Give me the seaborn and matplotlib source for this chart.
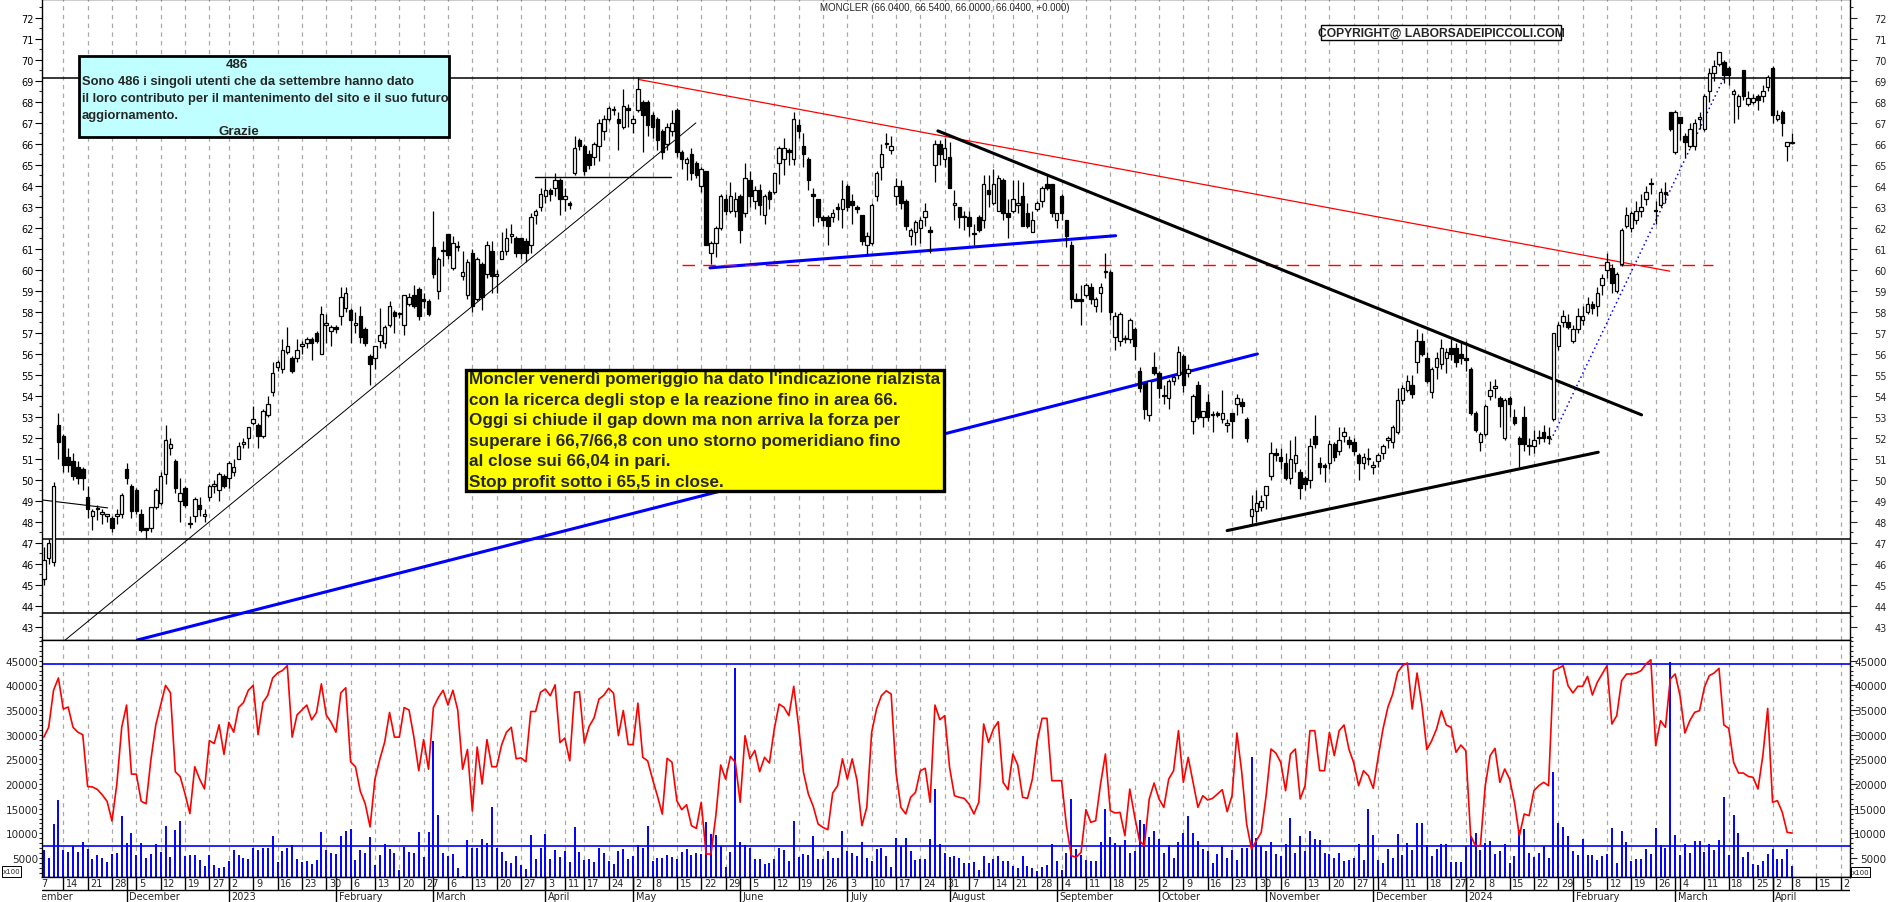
import numpy as np
import pandas as pd
import matplotlib
matplotlib.use("Agg")
import matplotlib.pyplot as plt
from matplotlib.patches import Rectangle
import seaborn as sns

sns.set_style("white")
plt.rcParams["font.family"] = ["DejaVu Sans"]

W, H = 1890, 903

# -----------------------------
# Trading calendar (Borsa Italiana)
# -----------------------------
holidays = ["2022-12-26", "2023-04-07", "2023-04-10", "2023-05-01", "2023-08-15",
            "2023-12-25", "2023-12-26", "2024-01-01", "2024-03-29", "2024-04-01"]

# -----------------------------
# Daily candles, 8 Nov 2022 -> 8 Apr 2024
# -----------------------------
opens = [
    45.3, 46.3, 46.1, 52.6, 52.1, 51.1, 50.9, 50.6, 50.5, 49.2,
    48.3, 48.6, 48.4, 48.3, 48.2, 48.3, 48.4, 50.5, 49.7, 49.5,
    48.4, 47.7, 47.7, 48.7, 48.9, 50.3, 51.5, 50.9, 49.0, 49.6,
    47.9, 48.3, 48.8, 48.3, 49.2, 49.7, 49.5, 50.2, 50.1, 50.4,
    51.0, 51.7, 52.0, 52.7, 52.6, 52.1, 53.1, 54.2, 55.4, 55.3,
    56.1, 55.8, 55.8, 56.4, 56.5, 56.7, 57.0, 56.0, 57.4, 57.1,
    57.3, 57.8, 58.2, 58.1, 57.4, 57.8, 57.2, 55.9, 55.8, 56.6,
    56.5, 57.4, 58.0, 57.9, 57.4, 58.4, 58.8, 59.1, 58.6, 58.5,
    61.1, 59.0, 60.9, 61.7, 60.1, 61.1, 59.7, 58.8, 60.8, 58.6,
    60.3, 59.8,
    60.9, 59.7, 60.5, 60.9, 61.6, 61.5, 61.5, 61.4, 61.2, 62.6,
    63.0, 63.5, 63.8, 63.9, 64.3, 63.4, 63.2, 64.6, 66.2, 65.9,
    65.5, 65.4, 65.9, 66.6, 67.2, 67.6, 67.2, 66.8, 67.7, 67.0,
    67.6, 68.0, 68.0, 67.4, 67.2, 66.6, 66.0, 66.6, 67.6, 65.6,
    65.1, 65.5, 65.1, 64.0, 64.7, 60.8, 61.3, 62.0, 63.4, 62.8,
    62.8, 63.5, 62.7, 64.3, 63.3, 63.8, 62.6, 63.7, 63.7, 65.1,
    65.3, 65.7, 65.3, 66.9, 65.9, 65.3, 63.6, 63.4, 62.5, 62.5,
    62.5, 63.0, 62.9, 64.0, 63.3, 63.0, 62.6, 61.2, 61.3, 63.5,
    64.9, 66.0, 65.7, 63.5, 64.0, 63.3, 61.6, 61.8, 62.0, 62.5,
    61.9, 65.0, 66.0, 65.3,
    65.4, 63.1, 63.0, 62.5, 62.5, 61.7, 62.5, 62.4, 63.8, 63.2,
    62.8, 64.3, 62.7, 62.8, 63.1, 63.5, 62.7, 61.8, 62.9, 63.3,
    64.1, 64.1, 62.4, 63.5, 62.4, 61.2, 58.6, 58.6, 58.8, 59.2,
    58.3, 58.9, 59.9, 59.9, 56.8, 56.6, 56.7, 56.7, 57.2, 55.2,
    54.6, 53.1, 55.4, 55.1, 54.0, 53.9, 54.7, 55.0, 55.9, 55.1,
    52.8, 54.5, 53.0, 53.7, 53.1, 53.2, 52.9, 52.6, 53.2, 53.6,
    53.7, 52.9, 48.3, 48.5, 48.7, 49.3, 50.2, 51.3, 51.1, 50.8,
    50.1, 50.8, 50.4, 50.1, 50.0, 52.1, 50.8, 50.7, 50.8, 51.7,
    51.4, 52.1, 51.9, 51.8, 51.2, 50.8, 51.0, 50.6, 50.9, 51.3,
    51.9, 51.8, 52.3,
    53.8, 54.3, 54.5, 55.6, 56.6, 55.8, 54.2, 55.4, 55.5, 55.8,
    56.3, 56.3, 56.0, 55.8, 55.3, 53.2, 51.8, 52.2, 54.0, 54.4,
    53.9, 52.0, 53.9, 53.0, 52.0, 53.0, 51.6, 51.6, 52.0, 52.3,
    52.1, 52.9, 56.4, 57.5, 57.5, 56.6, 57.2, 57.6, 58.0, 58.4,
    58.3, 59.3, 60.0, 60.1, 59.0, 60.3, 62.1, 62.0, 62.4, 62.8,
    63.4, 64.1, 62.8, 63.1, 63.7, 67.5, 65.6, 67.3, 66.4, 65.9,
    65.9, 67.2, 66.7, 68.5, 69.4, 69.8, 69.9, 69.6, 68.4, 67.8,
    69.5, 67.9, 68.0, 68.3, 68.3, 68.7, 69.6, 67.2, 67.5, 65.9,
    66.04,
]
highs = [
    46.8, 47.2, 49.9, 53.2, 52.2, 51.5, 51.3, 50.9, 50.6, 49.7,
    48.6, 48.8, 48.6, 48.4, 48.3, 48.6, 49.4, 50.8, 49.8, 49.6,
    48.6, 47.7, 48.7, 49.6, 50.4, 52.6, 52.0, 51.0, 50.1, 49.7,
    48.3, 49.2, 49.2, 48.6, 49.8, 50.0, 50.4, 50.3, 50.9, 51.0,
    51.8, 52.0, 52.5, 53.5, 52.7, 53.4, 54.0, 55.6, 55.7, 56.7,
    57.3, 55.9, 56.7, 56.6, 56.8, 56.8, 57.1, 58.3, 57.9, 57.4,
    57.4, 59.2, 59.2, 58.2, 58.0, 58.3, 57.3, 56.0, 56.4, 58.2,
    57.4, 58.5, 58.1, 58.0, 58.8, 58.9, 59.3, 59.2, 58.9, 58.6,
    62.8, 60.6, 61.4, 61.7, 61.6, 61.4, 60.9, 60.5, 61.0, 60.6,
    60.4, 61.4,
    61.4, 60.0, 61.8, 62.0, 62.2, 61.6, 61.5, 61.5, 62.7, 62.9,
    63.9, 64.4, 63.9, 64.6, 64.4, 63.9, 63.3, 66.4, 66.3, 66.0,
    65.7, 66.1, 67.2, 67.4, 67.8, 67.8, 67.5, 68.6, 67.9, 67.4,
    69.2, 68.1, 68.1, 67.5, 67.3, 66.7, 67.0, 67.6, 67.7, 65.7,
    65.4, 65.8, 65.2, 64.9, 64.7, 61.4, 62.1, 63.6, 63.6, 64.2,
    63.7, 63.6, 65.1, 64.7, 64.0, 64.1, 63.6, 63.8, 64.6, 65.9,
    66.3, 65.8, 67.5, 67.2, 66.5, 65.4, 63.9, 63.4, 62.6, 62.6,
    62.9, 63.2, 64.3, 64.1, 63.6, 63.1, 62.6, 61.8, 63.2, 64.7,
    66.0, 66.5, 66.4, 64.4, 64.3, 63.4, 62.0, 62.4, 62.5, 63.2,
    62.1, 66.2, 66.2, 66.3,
    66.1, 63.8, 63.0, 62.8, 62.8, 62.2, 62.6, 64.5, 64.5, 64.8,
    64.5, 64.4, 63.4, 64.3, 64.3, 64.2, 63.2, 62.8, 63.3, 64.0,
    64.5, 64.1, 62.7, 63.6, 62.4, 61.4, 58.9, 59.3, 59.4, 59.4,
    58.7, 59.4, 60.8, 60.0, 58.0, 58.0, 56.9, 57.7, 57.3, 55.4,
    54.6, 54.7, 56.1, 55.2, 54.5, 54.8, 55.0, 56.4, 56.0, 55.5,
    54.1, 54.7, 53.3, 54.1, 53.3, 53.3, 54.3, 52.9, 53.2, 54.1,
    53.9, 53.0, 49.3, 49.5, 49.3, 49.7, 51.8, 51.5, 51.5, 51.3,
    51.9, 52.1, 50.5, 50.2, 52.0, 53.1, 51.1, 50.8, 51.9, 51.8,
    52.5, 52.5, 52.1, 52.0, 51.3, 51.3, 51.5, 50.9, 51.3, 51.7,
    52.1, 52.6, 54.4,
    54.5, 55.0, 55.0, 57.2, 57.0, 56.1, 55.4, 56.1, 56.7, 56.3,
    56.7, 56.5, 56.6, 56.6, 55.4, 53.3, 52.3, 53.6, 54.7, 54.8,
    54.0, 53.9, 54.0, 53.4, 52.1, 53.5, 52.0, 52.4, 52.4, 52.6,
    52.5, 57.0, 57.5, 58.1, 57.9, 57.4, 58.2, 58.3, 58.7, 58.5,
    59.2, 59.8, 60.8, 60.3, 59.9, 62.0, 63.0, 62.8, 63.3, 63.6,
    64.0, 64.4, 63.3, 63.9, 64.2, 67.5, 67.6, 67.3, 66.5, 67.0,
    67.2, 67.5, 68.4, 69.6, 70.0, 70.4, 70.0, 69.7, 68.6, 68.4,
    69.5, 68.5, 68.4, 68.4, 68.8, 69.3, 69.7, 67.6, 67.6, 66.1,
    66.54,
]
lows = [
    45.0, 46.0, 45.9, 51.0, 50.4, 50.4, 50.0, 49.8, 49.5, 48.2,
    47.6, 48.1, 47.9, 48.0, 47.5, 47.9, 48.2, 49.8, 48.2, 48.4,
    47.5, 47.2, 47.5, 48.6, 48.8, 49.8, 51.2, 49.4, 48.0, 48.7,
    47.7, 48.0, 48.3, 48.0, 49.0, 49.4, 49.0, 49.6, 49.6, 50.2,
    51.0, 51.5, 51.5, 52.6, 51.5, 52.0, 53.0, 54.0, 55.2, 55.1,
    56.0, 55.1, 55.6, 56.0, 56.3, 55.7, 56.5, 56.0, 56.5, 56.4,
    57.0, 57.4, 58.0, 56.5, 57.0, 56.5, 56.4, 54.5, 55.3, 56.3,
    56.3, 57.3, 57.0, 57.7, 56.9, 58.3, 58.2, 57.6, 58.2, 57.8,
    59.6, 58.6, 60.2, 60.5, 60.0, 60.9, 59.5, 58.6, 58.0, 58.5,
    58.1, 59.6,
    58.9, 58.9, 60.5, 60.7, 61.3, 60.6, 60.5, 60.4, 60.8, 62.2,
    62.8, 63.2, 63.3, 63.5, 62.6, 62.8, 62.9, 64.5, 65.7, 64.5,
    64.8, 65.0, 65.2, 66.2, 67.1, 67.4, 65.7, 66.7, 66.8, 66.5,
    67.5, 65.6, 66.4, 66.3, 65.7, 65.3, 65.7, 66.4, 65.4, 64.8,
    64.3, 64.3, 64.4, 63.7, 61.2, 60.3, 60.6, 61.9, 62.6, 62.7,
    62.5, 61.3, 62.5, 63.0, 62.9, 62.6, 62.2, 62.9, 63.6, 64.1,
    64.5, 65.0, 65.0, 66.3, 64.9, 63.8, 62.1, 62.3, 62.1, 61.2,
    62.3, 62.4, 62.0, 62.8, 62.2, 62.7, 61.2, 60.7, 61.2, 63.3,
    64.3, 65.8, 65.5, 63.1, 62.9, 61.9, 61.2, 61.2, 61.3, 62.1,
    60.8, 64.2, 65.0, 64.9,
    63.9, 62.4, 62.0, 61.9, 61.6, 61.2, 61.8, 62.0, 63.0, 63.1,
    62.8, 62.4, 61.5, 62.7, 62.7, 62.1, 62.0, 61.8, 62.8, 63.0,
    63.8, 62.5, 62.0, 62.4, 61.1, 58.2, 58.5, 57.4, 58.7, 58.4,
    58.0, 58.0, 59.6, 57.6, 56.2, 56.4, 56.5, 56.5, 55.7, 54.2,
    52.9, 52.8, 55.0, 53.9, 53.6, 53.4, 54.5, 54.8, 54.2, 54.9,
    52.2, 52.9, 52.5, 52.8, 52.3, 53.0, 52.7, 52.3, 52.0, 53.1,
    53.2, 51.8, 47.9, 48.0, 48.5, 48.6, 50.0, 50.9, 50.5, 50.0,
    49.8, 50.4, 49.1, 49.5, 49.6, 51.5, 50.3, 49.9, 50.5, 50.9,
    51.2, 51.8, 51.5, 51.2, 50.0, 50.5, 50.7, 50.3, 50.6, 51.0,
    51.5, 51.5, 52.2,
    53.6, 54.2, 53.9, 55.1, 55.9, 54.6, 53.9, 54.8, 55.3, 55.1,
    55.7, 55.4, 55.5, 55.2, 53.1, 52.3, 51.4, 52.1, 53.8, 53.9,
    52.5, 51.9, 53.0, 52.6, 50.6, 51.4, 51.2, 51.3, 51.7, 51.8,
    51.7, 52.8, 56.2, 57.3, 57.2, 56.5, 57.0, 57.4, 57.9, 57.9,
    57.8, 58.8, 59.6, 58.9, 58.9, 60.2, 62.0, 61.8, 62.2, 62.5,
    63.1, 63.6, 62.2, 63.0, 63.2, 66.6, 65.5, 66.2, 65.4, 65.8,
    65.7, 66.7, 66.6, 68.0, 69.0, 69.7, 68.9, 68.8, 67.0, 67.2,
    68.1, 67.8, 67.9, 67.6, 68.0, 68.5, 67.0, 67.1, 66.4, 65.2,
    66.0,
]
closes = [
    46.2, 47.0, 49.7, 51.8, 50.7, 50.7, 50.2, 50.1, 50.1, 48.6,
    48.5, 48.6, 48.4, 48.3, 47.7, 48.4, 49.3, 50.1, 48.5, 48.5,
    47.6, 47.6, 48.7, 49.5, 50.2, 51.9, 51.7, 49.6, 49.4, 48.8,
    47.9, 49.1, 48.6, 48.3, 49.7, 49.8, 50.3, 49.7, 50.8, 50.6,
    51.6, 51.8, 52.5, 52.9, 52.1, 53.3, 53.6, 55.1, 55.6, 56.2,
    56.4, 55.2, 56.2, 56.4, 56.7, 56.5, 56.6, 57.9, 57.4, 57.3,
    57.2, 58.7, 58.9, 57.6, 57.4, 56.8, 56.5, 55.5, 56.4, 56.9,
    57.3, 58.3, 57.8, 57.9, 58.8, 58.7, 58.3, 57.8, 58.5, 57.9,
    59.8, 60.5, 60.9, 60.7, 61.3, 61.1, 59.9, 60.4, 58.3, 60.5,
    58.7, 61.2,
    59.7, 59.8, 60.9, 61.5, 61.7, 60.8, 60.8, 60.8, 62.5, 62.8,
    63.6, 63.8, 63.6, 64.3, 63.4, 63.5, 63.1, 65.8, 65.9, 64.7,
    65.0, 66.0, 67.0, 67.2, 67.7, 67.6, 67.0, 67.8, 67.6, 67.2,
    68.6, 67.4, 66.9, 66.8, 66.2, 65.6, 66.8, 67.0, 65.6, 65.3,
    65.3, 64.6, 64.5, 64.8, 61.2, 61.3, 62.0, 63.5, 62.8, 63.5,
    63.4, 61.9, 64.4, 63.5, 63.8, 63.1, 63.5, 63.4, 64.6, 65.8,
    65.8, 65.6, 67.2, 66.6, 65.5, 64.3, 63.5, 62.5, 62.4, 62.1,
    62.7, 62.9, 63.4, 63.0, 63.1, 62.9, 61.4, 61.6, 63.1, 64.6,
    65.5, 66.0, 65.9, 64.0, 63.2, 62.1, 61.9, 62.3, 62.4, 62.8,
    61.8, 66.0, 65.5, 65.8,
    63.9, 63.2, 62.5, 62.5, 62.1, 61.7, 61.9, 64.1, 63.6, 64.1,
    64.4, 62.7, 62.5, 63.4, 63.2, 62.1, 62.1, 62.4, 63.2, 63.9,
    63.9, 62.7, 62.7, 62.7, 61.6, 58.6, 58.5, 58.5, 59.3, 58.6,
    58.6, 59.2, 59.9, 58.0, 57.8, 57.9, 56.7, 57.6, 56.4, 54.4,
    53.4, 54.7, 55.1, 54.4, 54.0, 54.7, 54.9, 56.1, 54.5, 55.3,
    54.0, 53.0, 53.3, 53.0, 53.1, 53.1, 53.2, 52.7, 52.8, 53.9,
    53.5, 52.0, 48.6, 48.9, 49.0, 49.7, 51.3, 51.2, 50.9, 50.1,
    51.0, 51.2, 49.6, 49.8, 51.6, 51.7, 50.6, 50.6, 51.7, 51.1,
    51.9, 52.3, 51.7, 51.4, 50.8, 51.1, 51.0, 50.7, 51.2, 51.6,
    52.0, 52.5, 53.8,
    54.4, 54.7, 54.1, 56.6, 56.0, 54.7, 55.3, 55.8, 56.3, 56.1,
    56.0, 55.6, 55.8, 55.7, 53.2, 52.4, 52.2, 53.5, 54.3, 54.4,
    53.5, 53.8, 53.6, 52.7, 51.7, 51.7, 51.6, 51.9, 52.0, 52.0,
    52.0, 57.0, 57.4, 57.8, 57.3, 57.2, 57.8, 57.8, 58.4, 58.2,
    58.9, 59.6, 60.4, 59.4, 59.8, 61.9, 62.6, 62.7, 62.8, 63.0,
    63.7, 64.1, 62.8, 63.7, 63.6, 66.7, 67.5, 67.0, 66.1, 66.7,
    67.0, 67.2, 68.3, 69.4, 69.7, 70.4, 69.3, 69.3, 68.5, 68.3,
    68.3, 68.2, 68.2, 68.1, 68.5, 69.2, 67.4, 67.4, 67.0, 66.1,
    66.04,
]

# -----------------------------
# Lower panel: volume (x100) and red indicator
# -----------------------------
volume = [
    6700, 5000, 11900, 16750, 6700, 6280, 7360, 6280, 8300, 6820,
    4800, 5600, 5000, 4250, 5800, 6000, 13580, 8040, 10060, 5600,
    8040, 5000, 5800, 7840, 6280, 11420, 5130, 10670, 12500, 5330,
    5600, 5600, 4600, 3300, 5600, 3580, 2970, 3100, 4390, 6620,
    5600, 5000, 4800, 7020, 6620, 7020, 7020, 9520, 4250, 6410,
    7020, 7630, 4800, 4250, 4390, 3780, 4600, 10200, 6700, 6010,
    5800, 9520, 10470, 10880, 4600, 6700, 6010, 9250, 3580, 5600,
    7840, 6820, 6010, 2630, 7290, 6280, 6010, 10330, 5200, 10330,
    28780, 13710, 6010, 5330, 5800, 3000, 1280, 8650, 7020, 7020,
    8850, 8040, 15270, 7020,
    6150, 4460, 3980, 5330, 3580, 2780, 9660, 4800, 6960, 9860,
    4800, 6700, 5130, 6480, 4120, 11210, 6280, 4660, 4800, 4250,
    6960, 6010, 4460, 3780, 6410, 6820, 4800, 5330, 7630, 6960,
    11420, 4460, 5000, 5000, 5600, 5130, 4800, 6280, 6820, 5600,
    6010, 5800, 12230, 9860, 9660, 7360, 3100, 6150, 43450, 8300,
    7630, 6960, 4800, 4800, 3780, 3980, 4800, 6960, 6620, 4460,
    12430, 5130, 5800, 5600, 9390, 4800, 4800, 6410, 4930, 4930,
    10400, 6410, 6010, 5330, 8300, 4930, 4390, 6820, 6960, 5330,
    3100, 8980, 7360, 8980, 6350, 4660, 4800, 4800, 8850, 18980,
    7840, 6010, 5130, 5470, 4930, 3980, 3980, 4250, 2560, 5330,
    3980, 4800, 5470,
    4460, 4460, 3310, 2900, 5330, 3310, 2900, 2430, 3100, 3580,
    7840, 4460, 2630, 6010, 16960, 6820, 5600, 4660, 4460, 4460,
    8300, 14930, 9190, 8040, 7360, 8650, 6010, 6480, 12700, 11890,
    9190, 10400, 8850, 6010, 7630, 5000, 8300, 10060, 13580, 10060,
    8440, 6820, 6410, 3980, 5800, 7360, 5000, 6620, 4600, 6960,
    6960, 25540, 8980, 7360, 6410, 8300, 5800, 5330, 7840, 13040,
    6010, 9520, 6410, 10400, 8850, 8650, 6010, 5800, 5000, 6010,
    4390, 4600, 5000, 7840, 4600, 14930, 9660, 4600, 3980, 6820,
    5000, 9860,
    5600, 8040, 6700, 12090, 12090, 7630, 5330, 6820, 7840, 7840,
    4250, 4250, 4250, 7360, 9520, 10060, 6700, 8040, 8440, 5800,
    6410, 7840, 3980, 5330, 10740, 10880, 6010, 5130, 6010, 7360,
    5000, 22500, 12090, 11210, 9520, 6410, 5600, 8850, 5600, 5600,
    4600, 5330, 5800, 11010, 3980, 10400, 8170, 4460, 4800, 4800,
    6820, 5800, 11080, 7630, 7090, 44660, 9660, 5600, 7840, 6010,
    8510, 8510, 6280, 7840, 6620, 8650, 17300, 5600, 13710, 10060,
    5130, 6150, 3780, 3580, 4460, 5800, 6820, 4800, 4800, 6820,
    3440,
]
indicator = [
    29500, 31500, 39000, 41500, 35200, 35600, 31500, 30500, 30000, 19500,
    19400, 18900, 17800, 16500, 12500, 20000, 31500, 36000, 22000, 22000,
    16500, 16000, 25000, 32000, 36000, 40000, 38500, 22500, 21500, 18000,
    14000, 23500, 21000, 19000, 28800, 28200, 32000, 26000, 32500, 30500,
    35500, 36500, 39000, 40000, 30000, 36500, 38000, 41500, 42500, 43000,
    44000, 29500, 34000, 35000, 36000, 33000, 34500, 40300, 34000, 32500,
    30500, 38500, 39500, 24500, 23500, 18500, 16000, 11300, 21000, 25000,
    28500, 34500, 29500, 29500, 35500, 35000, 29500, 22700, 29000, 23000,
    35500, 37500, 39000, 36000, 39000, 35000, 23000, 27000, 14500, 27500,
    20000, 29000, 23500, 23500,
    27900, 30500, 31500, 25100, 25300, 24500, 34700, 34700, 38600, 39250,
    37900, 40100, 28400, 29300, 24700, 38600, 38700, 28300, 31700, 33400,
    37200, 38000, 39400, 38400, 29800, 34900, 28000, 28000, 36400, 25400,
    24700, 21000, 17600, 13900, 25200, 24400, 16600, 14800, 15800, 11550,
    11000, 16300, 5800, 5800, 13580, 23850, 21000, 25600, 24400, 16300,
    29800, 25100, 26800, 22500, 25400, 24250, 31150, 36200, 35540, 33850,
    39800, 31700, 22360, 17970, 15470, 11890, 11210, 10740, 18170, 19660,
    25100, 21000, 25100, 20670, 11550, 15270, 30470, 35200, 37900, 38900,
    38240, 22360, 15270, 13920, 17300, 18300, 22700, 23180, 16300, 36000,
    33040, 33850, 23380, 17630, 17300, 17090, 15940, 13920, 16300, 32160,
    28450, 31150, 32630,
    20340, 18850, 26080, 23850, 17300, 17090, 21000, 28780, 33310, 33310,
    20670, 20670, 20670, 11550, 5470, 5130, 6150, 14800, 12230, 12560,
    20000, 26080, 14590, 14120, 14250, 9520, 18980, 13440, 8510, 7500,
    16960, 20200, 16960, 15270, 21000, 22700, 30810, 20340, 25400, 20340,
    15270, 17630, 16750, 17090, 17970, 18850, 14390, 17630, 30340, 22360,
    11890, 6820, 8510, 10200, 17630, 27090, 26280, 24390, 18650, 26080,
    27090, 16960, 19660, 30810, 30810, 22700, 22700, 30470, 25740, 30810,
    31960, 27090, 24250, 19660, 22700, 21690, 19120, 25400, 31150, 35540,
    38240, 42630,
    43990, 44530, 35200, 42500, 35870, 26960, 28780, 31150, 34870, 31960,
    31480, 26420, 27900, 26750, 9520, 7500, 7500, 19660, 25740, 27230,
    20340, 23040, 21000, 16300, 9520, 13920, 13580, 18650, 19660, 20340,
    19660, 42970, 43450, 43990, 39930, 38450, 39800, 39800, 41820, 38040,
    40610, 42300, 43990, 32160, 33850, 40940, 42300, 42300, 42500, 42970,
    44320, 45200, 27770, 32830, 31480, 41280, 42300, 37900, 30340, 32830,
    34530, 34870, 39590, 41960, 42500, 43450, 31960, 31280, 24390, 22230,
    22230, 21550, 21350, 18980, 25740, 35330, 16300, 16620, 14250, 10200,
    10060,
]

# -----------------------------
# Drawn analysis lines (x = trading-day index, y = price)
# -----------------------------
levels_full = [69.13, 47.2, 43.67]
level_64_x, level_64_y = [100.9, 128.8], [64.42, 64.42]
level_49_x, level_49_y = [-0.4, 13.1], [49.05, 48.67]
thin_up_x, thin_up_y = [4.4, 133.9], [42.38, 67.0]
blue_long_x, blue_long_y = [19.2, 249.2], [42.38, 56.0]
blue_range_x, blue_range_y = [136.8, 220.1], [60.1, 61.63]
red_down_x, red_down_y = [122.1, 333.9], [69.07, 59.94]
red_dash_x, red_dash_y = [131.0, 342.8], [60.25, 60.25]
black_down_x, black_down_y = [183.6, 328.1], [66.62, 53.1]
black_up_x, black_up_y = [243.0, 319.2], [47.59, 51.32]
blue_dot_x, blue_dot_y = [309.1, 344.9], [51.71, 69.1]
vol_levels = [44250, 7400]

# -----------------------------
# Build frame
# -----------------------------
df = pd.DataFrame({"open": opens, "high": highs, "low": lows, "close": closes,
                   "volume": volume, "ind": indicator})
df["x"] = np.arange(len(df))

XMIN, XMAX = -0.37, 370.9

cal = pd.bdate_range("2022-11-01", "2024-04-26")
cal = cal[~cal.isin(pd.to_datetime(holidays))]
cal_x = np.arange(len(cal)) - 5          # 8 Nov 2022 -> 0
wk = pd.Series(cal.to_period("W"))
mo = pd.Series(cal.to_period("M"))
week_first = ~wk.duplicated().values
month_first = ~mo.duplicated().values
week_x = cal_x[week_first]
week_lab = [str(d.day) for d in cal[week_first]]
month_x = cal_x[month_first]
month_lab = []
for d in cal[month_first]:
    if d.month == 1:
        month_lab.append(str(d.year))
    else:
        month_lab.append(d.strftime("%B"))


def fbox(x0, y0, x1, y1):
    return [x0 / W, 1 - y1 / H, (x1 - x0) / W, (y1 - y0) / H]


fig = plt.figure(figsize=(W / 100, H / 100), dpi=100)
fig.patch.set_facecolor("white")
ax = fig.add_axes(fbox(42, 0, 1850, 641))
axv = fig.add_axes(fbox(42, 641, 1850, 878), sharex=ax)
axd = fig.add_axes(fbox(42, 878, 1850, 903), sharex=ax)

ax.set_xlim(XMIN, XMAX)
ax.set_ylim(42.38, 72.9)
axv.set_ylim(1149, 49190)
axd.set_ylim(0, 25)

grid_kw = dict(color="#a8a8a8", lw=0.9, linestyles=(0, (3.5, 3.5)), zorder=0)
ax.vlines(week_x, 42.38, 72.9, **grid_kw)
axv.vlines(week_x, 1149, 49190, **grid_kw)

# levels and lines under candles
for lv in levels_full:
    ax.axhline(lv, color="black", lw=1.1, zorder=1)
ax.plot(level_64_x, level_64_y, color="black", lw=1.0, zorder=1)
ax.plot(level_49_x, level_49_y, color="black", lw=0.8, zorder=1)
ax.plot(thin_up_x, thin_up_y, color="black", lw=0.7, zorder=1)
ax.plot(blue_long_x, blue_long_y, color="#0000ff", lw=2.2, zorder=1)
ax.plot(blue_range_x, blue_range_y, color="#0000ff", lw=2.2, zorder=1)
ax.plot(red_down_x, red_down_y, color="#ff0000", lw=0.9, zorder=1)
ax.plot(red_dash_x, red_dash_y, color="#ff0000", lw=1.0, ls=(0, (9, 6)), zorder=1)
ax.plot(black_down_x, black_down_y, color="black", lw=2.2, zorder=1)
ax.plot(black_up_x, black_up_y, color="black", lw=2.2, zorder=1)
ax.plot(blue_dot_x, blue_dot_y, color="#0000ff", lw=1.1, ls=(0, (1, 2)), zorder=1)

# candles
up = df["close"] >= df["open"]
ax.vlines(df["x"], df["low"], df["high"], color="black", lw=0.9, zorder=2)
body = (df["close"] - df["open"]).abs().clip(lower=0.06)
bot = df[["open", "close"]].min(axis=1)
ax.bar(df["x"][up], body[up], bottom=bot[up], width=0.72, facecolor="white",
       edgecolor="black", lw=0.9, zorder=3)
ax.bar(df["x"][~up], body[~up], bottom=bot[~up], width=0.72, facecolor="black",
       edgecolor="black", lw=0.9, zorder=3)

# lower panel
for lv in vol_levels:
    axv.axhline(lv, color="#0000ff", lw=1.2, zorder=1)
axv.vlines(df["x"], 0, df["volume"], color="#0000ff", lw=1.4, zorder=2)
sns.lineplot(data=df, x="x", y="ind", ax=axv, color="#ff0000", lw=1.2,
             legend=False, zorder=3)
axv.set_xlabel("")
axv.set_ylabel("")

# ticks
for a in (ax, axv, axd):
    for s in a.spines.values():
        s.set_color("black")
        s.set_linewidth(1.0)
    a.tick_params(axis="x", which="both", bottom=False, top=False,
                  labelbottom=False, labeltop=False)

ax.set_yticks(np.arange(43, 73))
ax.set_yticks(np.arange(42.5, 73, 0.5), minor=True)
ax.tick_params(axis="y", which="major", direction="out", length=5, width=0.8,
               labelsize=7, pad=0.8, colors="black")
ax.tick_params(axis="y", which="minor", direction="out", length=2.5, width=0.8)

axv.set_yticks(np.arange(5000, 45001, 5000))
axv.set_yticks(np.arange(2000, 49001, 1000), minor=True)
axv.tick_params(axis="y", which="major", direction="out", length=2.5, width=0.8,
                labelsize=7.5, pad=0.3)
axv.tick_params(axis="y", which="minor", direction="out", length=2, width=0.8)

for a, lo, hi in ((ax, 42.38, 72.9), (axv, 1149, 49190)):
    ar = a.twinx()
    ar.set_ylim(lo, hi)
    ar.set_yticks(a.get_yticks())
    ar.set_yticks(a.get_yticks(minor=True), minor=True)
    ar.tick_params(axis="y", which="major", direction="out", length=5, width=0.8,
                   labelsize=a.yaxis.get_ticklabels()[0].get_fontsize(), pad=21.5)
    ar.tick_params(axis="y", which="minor", direction="out", length=2.5, width=0.8)
    for t in ar.get_yticklabels():
        t.set_horizontalalignment("right")
    for s in ar.spines.values():
        s.set_visible(False)

# date strip
axd.set_yticks([])
for s in ("left", "right", "bottom"):
    axd.spines[s].set_visible(False)
axd.axhline(12.5, color="black", lw=1.0)
axd.vlines(week_x, 12.5, 25, color="black", lw=1.0)
axd.vlines(month_x, 0, 25, color="black", lw=1.0)
for xv, lab in zip(week_x, week_lab):
    if xv < XMAX:
        axd.text(xv + 0.55, 18.6, lab, fontsize=7, ha="left", va="center",
                 clip_on=True)
for xv, lab in zip(month_x, month_lab):
    if xv < XMAX:
        axd.text(xv + 0.55, 6.0, lab, fontsize=7, ha="left", va="center",
                 clip_on=True)

# -----------------------------
# Overlay texts and boxes
# -----------------------------
narrow = ["Liberation Sans Narrow", "Liberation Sans", "DejaVu Sans"]


def px_rect(x0, y0, x1, y1, **kw):
    fig.add_artist(Rectangle((x0 / W, 1 - y1 / H), (x1 - x0) / W, (y1 - y0) / H,
                             transform=fig.transFigure, **kw))


def px_text(x, y, s, **kw):
    fig.text(x / W, 1 - y / H, s, **kw)


px_text(945, 8, "MONCLER (66.0400, 66.5400, 66.0000, 66.0400, +0.000)",
        ha="center", va="center", fontsize=7, family=["Liberation Sans", "DejaVu Sans"])

px_rect(1321, 26, 1561, 41, facecolor="white", edgecolor="black", lw=1.0, zorder=4)
px_text(1441, 33.8, "COPYRIGHT@ LABORSADEIPICCOLI.COM", ha="center", va="center",
        fontsize=8.7, weight="bold", family=narrow, zorder=5)

px_rect(79, 57, 449, 138, facecolor="#c0ffff", edgecolor="black", lw=2.0, zorder=4)
px_text(237, 65, "486", ha="center", va="center", fontsize=9.6, weight="bold",
        family=narrow, zorder=5)
for yy, line in ((82, "Sono 486 i singoli utenti che da settembre hanno dato"),
                 (99, "il loro contributo per il mantenimento del sito e il suo futuro"),
                 (116, "aggiornamento.")):
    px_text(82, yy, line, ha="left", va="center", fontsize=9.4, weight="bold",
            family=narrow, zorder=5)
px_text(239, 132, "Grazie", ha="center", va="center", fontsize=9.6, weight="bold",
        family=narrow, zorder=5)

px_rect(466, 371, 944, 492, facecolor="#ffff00", edgecolor="black", lw=2.4, zorder=4)
yellow_lines = [
    "Moncler venerdì pomeriggio ha dato l'indicazione rialzista",
    "con la ricerca degli stop e la reazione fino in area 66.",
    "Oggi si chiude il gap down ma non arriva la forza per",
    "superare i 66,7/66,8 con uno storno pomeridiano fino",
    "al close sui 66,04 in pari.",
    "Stop profit sotto i 65,5 in close.",
]
for i, line in enumerate(yellow_lines):
    px_text(469, 379.5 + i * 20.6, line, ha="left", va="center", fontsize=12.3,
            weight="bold", family=narrow, zorder=5)

# x100 markers
px_rect(2, 867, 21, 878, facecolor="white", edgecolor="black", lw=0.7, zorder=4)
px_text(11.5, 872.5, "x100", ha="center", va="center", fontsize=5, zorder=5)
px_rect(1851, 868, 1870, 878, facecolor="white", edgecolor="black", lw=0.7, zorder=4)
px_text(1860.5, 873, "x100", ha="center", va="center", fontsize=5, zorder=5)

fig.savefig("out.png", dpi=100, facecolor="white")
